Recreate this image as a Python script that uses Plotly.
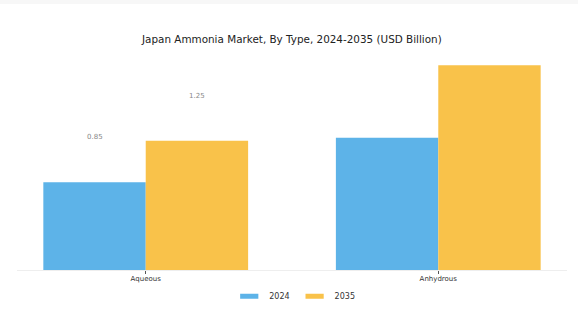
import plotly.graph_objects as go

categories = ["Aqueous", "Anhydrous"]
years = ["2024", "2035"]
values_2024 = [0.85, 1.28]
values_2035 = [1.25, 1.98]
label_values_2024 = [0.85, None]
label_values_2035 = [1.25, None]
colors = ["#5DB3E8", "#F9C24A"]

fig = go.Figure()
for name, vals, col in [(years[0], values_2024, colors[0]), (years[1], values_2035, colors[1])]:
    fig.add_trace(go.Bar(x=categories, y=vals, name=name, marker_color=col,
                         marker_line_width=0, showlegend=False, legendgroup=name))
for name, col in [(years[0], colors[0]), (years[1], colors[1])]:
    fig.add_trace(go.Scatter(x=[None], y=[None], name=name, mode="markers", legendgroup=name,
                             marker=dict(symbol="line-ew-open", size=13,
                                         line=dict(width=5, color=col), color=col)))

for vals, shift in [(label_values_2024, -51), (label_values_2035, 51)]:
    for cat, v in zip(categories, vals):
        if v is None:
            continue
        fig.add_annotation(x=cat, y=v, text=f"{v:.2f}", showarrow=False, xshift=shift,
                           yshift=45, font=dict(size=7, color="#888888"))

# light strip at the very top of the page
fig.add_shape(type="rect", xref="paper", yref="paper", x0=-0.1, x1=1.1,
              y0=1 + 51 / 215.5, y1=1.4, line_width=0, fillcolor="#f7f7f7", layer="below")

fig.update_layout(
    width=578, height=325,
    margin=dict(l=17, r=11, t=55, b=54.5, autoexpand=False),
    paper_bgcolor="white", plot_bgcolor="white",
    font=dict(family="DejaVu Sans", color="#333333"),
    title=dict(text="Japan Ammonia Market, By Type, 2024-2035 (USD Billion)",
               x=0.505, xanchor="center", y=0.88, yanchor="middle",
               font=dict(size=10.4, color="#222222")),
    barmode="group", bargap=0.3, bargroupgap=0,
    legend=dict(orientation="h", x=0.505, xanchor="center", y=-0.055, yanchor="top",
                font=dict(size=8, color="#333333"), itemwidth=30, tracegroupgap=0),
    showlegend=True,
)
fig.update_xaxes(range=[-0.44, 1.44], showline=True, linecolor="#eeeeee", linewidth=1,
                 ticks="outside", ticklen=3, tickcolor="#555555", automargin=False,
                 ticklabelstandoff=-1,
                 tickfont=dict(size=7, color="#333333"), showgrid=False)
fig.update_yaxes(range=[0, 2.08], visible=False, showgrid=False, automargin=False)

fig.write_html("out.html")
